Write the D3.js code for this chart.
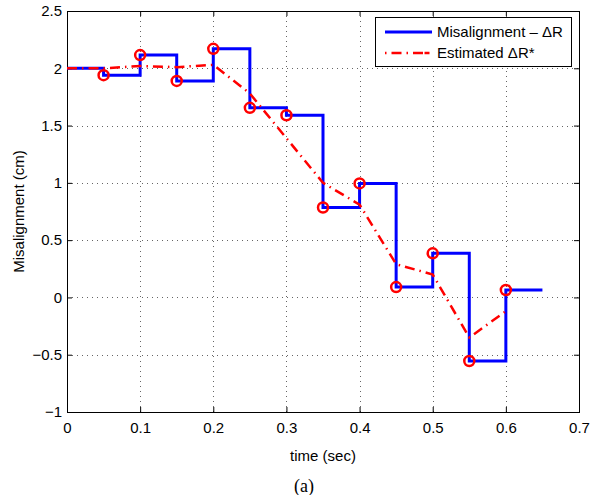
<!DOCTYPE html>
<html>
<head>
<meta charset="utf-8">
<script src="https://cdn.jsdelivr.net/npm/d3@7"></script>
<style>
html,body{margin:0;padding:0;background:#fff;}
svg{display:block;}
text{font-family:"Liberation Sans",Arial,Helvetica,sans-serif;}
</style>
</head>
<body>
<svg id="chart" width="590" height="495"></svg>
<script>
// ---- data ----
const stepTimes = [0, 0.05, 0.10, 0.15, 0.20, 0.25, 0.30, 0.35, 0.40, 0.45, 0.50, 0.55, 0.60, 0.65];
const misalignment = [2.00, 1.94, 2.115, 1.89, 2.17, 1.655, 1.59, 0.785, 0.995, 0.09, 0.385, -0.555, 0.065, 0.065];
const estTimes = [0, 0.05, 0.10, 0.15, 0.20, 0.25, 0.30, 0.35, 0.40, 0.45, 0.50, 0.55, 0.60];
const estimated = [2.00, 2.00, 2.02, 2.01, 2.03, 1.78, 1.39, 1.00, 0.81, 0.29, 0.20, -0.35, -0.12];
const markerTimes = [0.05, 0.10, 0.15, 0.20, 0.25, 0.30, 0.35, 0.40, 0.45, 0.50, 0.55, 0.60];
const markerValues = [1.94, 2.115, 1.89, 2.17, 1.655, 1.59, 0.785, 0.995, 0.09, 0.385, -0.555, 0.065];
const xTicks = [0, 0.1, 0.2, 0.3, 0.4, 0.5, 0.6, 0.7];
const yTicks = [-1, -0.5, 0, 0.5, 1, 1.5, 2, 2.5];
const legendLabels = ["Misalignment \u2013 \u0394R", "Estimated \u0394R*"];

// ---- layout ----
const L = 67, R = 579, T = 11, B = 412;
const svg = d3.select("#chart");
const x = d3.scaleLinear().domain([0, 0.7]).range([L, R]);
const y = d3.scaleLinear().domain([-1, 2.5]).range([B, T]);

// grid
const grid = svg.append("g").attr("stroke", "#666").attr("stroke-width", 1)
  .attr("stroke-dasharray", "1,4").attr("shape-rendering", "crispEdges");
xTicks.slice(1, -1).forEach(t => grid.append("line")
  .attr("x1", Math.round(x(t)) + 0.5).attr("x2", Math.round(x(t)) + 0.5).attr("y1", T).attr("y2", B));
yTicks.slice(1, -1).forEach(t => grid.append("line")
  .attr("y1", Math.round(y(t)) + 0.5).attr("y2", Math.round(y(t)) + 0.5).attr("x1", L).attr("x2", R));

// axes
const fmt = v => (v < 0 ? "\u2212" : "") + d3.format("")(Math.abs(v));
const xAxisB = d3.axisBottom(x).tickValues(xTicks).tickSizeInner(-5).tickSizeOuter(0).tickPadding(10).tickFormat(fmt);
const xAxisT = d3.axisTop(x).tickValues(xTicks).tickSizeInner(-5).tickSizeOuter(0).tickFormat("");
const yAxisL = d3.axisLeft(y).tickValues(yTicks).tickSizeInner(-5).tickSizeOuter(0).tickPadding(5).tickFormat(fmt);
const yAxisR = d3.axisRight(y).tickValues(yTicks).tickSizeInner(-5).tickSizeOuter(0).tickFormat("");

function styleAxis(g) {
  g.select(".domain").remove();
  g.selectAll("line").attr("stroke", "#000");
  g.selectAll("text").attr("fill", "#000").style("font-size", "15px")
    .style("font-family", "'Liberation Sans', Arial, sans-serif");
}
svg.append("g").attr("transform", `translate(0,${B})`).call(xAxisB).call(styleAxis);
svg.append("g").attr("transform", `translate(0,${T})`).call(xAxisT).call(styleAxis);
svg.append("g").attr("transform", `translate(${L},0)`).call(yAxisL).call(styleAxis);
svg.append("g").attr("transform", `translate(${R},0)`).call(yAxisR).call(styleAxis);

// box
svg.append("rect").attr("x", L + 0.5).attr("y", T + 0.5).attr("width", R - L).attr("height", B - T)
  .attr("fill", "none").attr("stroke", "#000").attr("stroke-width", 1);

// blue step line
const stepLine = d3.line().x((d, i) => x(stepTimes[i])).y(d => y(d)).curve(d3.curveStepAfter);
svg.append("path").datum(misalignment).attr("d", stepLine)
  .attr("fill", "none").attr("stroke", "#0000ff").attr("stroke-width", 3);

// red dash-dot estimate
const estLine = d3.line().x((d, i) => x(estTimes[i])).y(d => y(d));
svg.append("path").datum(estimated).attr("d", estLine)
  .attr("fill", "none").attr("stroke", "#ff0000").attr("stroke-width", 2.5)
  .attr("stroke-dasharray", "10,5,1.5,5");

// markers
svg.append("g").selectAll("circle").data(markerValues).join("circle")
  .attr("cx", (d, i) => x(markerTimes[i])).attr("cy", d => y(d)).attr("r", 5)
  .attr("fill", "none").attr("stroke", "#ff0000").attr("stroke-width", 2.5);

// labels
svg.append("text").attr("x", (L + R) / 2).attr("y", 461).attr("text-anchor", "middle")
  .style("font-size", "15px").text("time (sec)");
svg.append("text").attr("transform", `translate(24,${(T + B) / 2}) rotate(-90)`).attr("text-anchor", "middle")
  .style("font-size", "15px").text("Misalignment (cm)");
svg.append("text").attr("x", 304).attr("y", 492).attr("text-anchor", "middle")
  .style("font-family", "'Liberation Serif','Times New Roman',serif").style("font-size", "18px").text("(a)");

// legend
const lg = svg.append("g");
lg.append("rect").attr("x", 375.5).attr("y", 17.5).attr("width", 196).attr("height", 49)
  .attr("fill", "#fff").attr("stroke", "#000").attr("stroke-width", 1);
const rowsY = [32, 53];
lg.append("line").attr("x1", 385).attr("x2", 432).attr("y1", rowsY[0]).attr("y2", rowsY[0])
  .attr("stroke", "#0000ff").attr("stroke-width", 3);
lg.append("line").attr("x1", 385).attr("x2", 432).attr("y1", rowsY[1]).attr("y2", rowsY[1])
  .attr("stroke", "#ff0000").attr("stroke-width", 2.5).attr("stroke-dasharray", "1.5,5,10,5,1.5,5,10");
lg.selectAll("text.lab").data(legendLabels).join("text").attr("class", "lab")
  .attr("x", 437).attr("y", (d, i) => rowsY[i] + 5).style("font-size", "15px").text(d => d);
</script>
</body>
</html>
